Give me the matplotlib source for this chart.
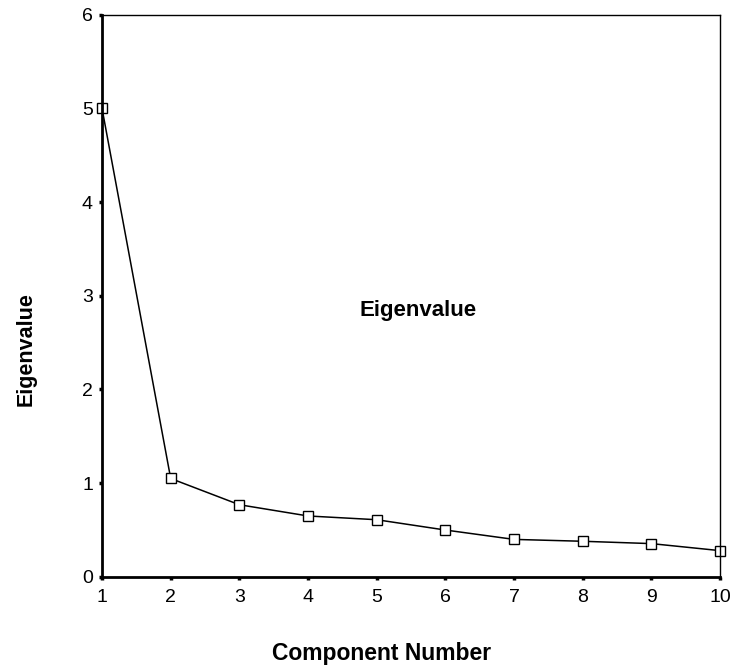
import matplotlib
matplotlib.use("Agg")
from matplotlib import pyplot as plt

plt.rcParams['font.family'] = ['Liberation Sans', 'DejaVu Sans']

components = [1, 2, 3, 4, 5, 6, 7, 8, 9, 10]
eigenvalues = [5.0, 1.05, 0.77, 0.65, 0.61, 0.50, 0.40, 0.38, 0.355, 0.28]
y_ticks = [0, 1, 2, 3, 4, 5, 6]

fig = plt.figure(figsize=(7.34, 6.7), dpi=100)
ax = fig.add_axes([0.139, 0.139, 0.842, 0.839])

ax.plot(components, eigenvalues, color='black', linewidth=1.1,
        marker='s', markersize=7.8, markerfacecolor='white',
        markeredgecolor='black', markeredgewidth=1.0, clip_on=False)

ax.set_xlim(1, 10)
ax.set_ylim(0, 6)
ax.set_xticks(components)
ax.set_yticks(y_ticks)
ax.tick_params(direction='out', length=2.5, width=2.5, labelsize=14)
ax.tick_params(axis='x', pad=6)
ax.tick_params(axis='y', pad=4)

ax.spines['left'].set_linewidth(2)
ax.spines['bottom'].set_linewidth(2)
ax.spines['top'].set_linewidth(1)
ax.spines['right'].set_linewidth(1)

ax.text(5.6, 2.84, 'Eigenvalue', fontsize=16, fontweight='bold',
        ha='center', va='center')

fig.text(0.035, 0.479, 'Eigenvalue', fontsize=15.5, fontweight='bold',
         rotation=90, ha='center', va='center')
fig.text(0.52, 0.024, 'Component Number', fontsize=16.5, fontweight='bold',
         ha='center', va='center')

fig.savefig('out.png', dpi=100)
